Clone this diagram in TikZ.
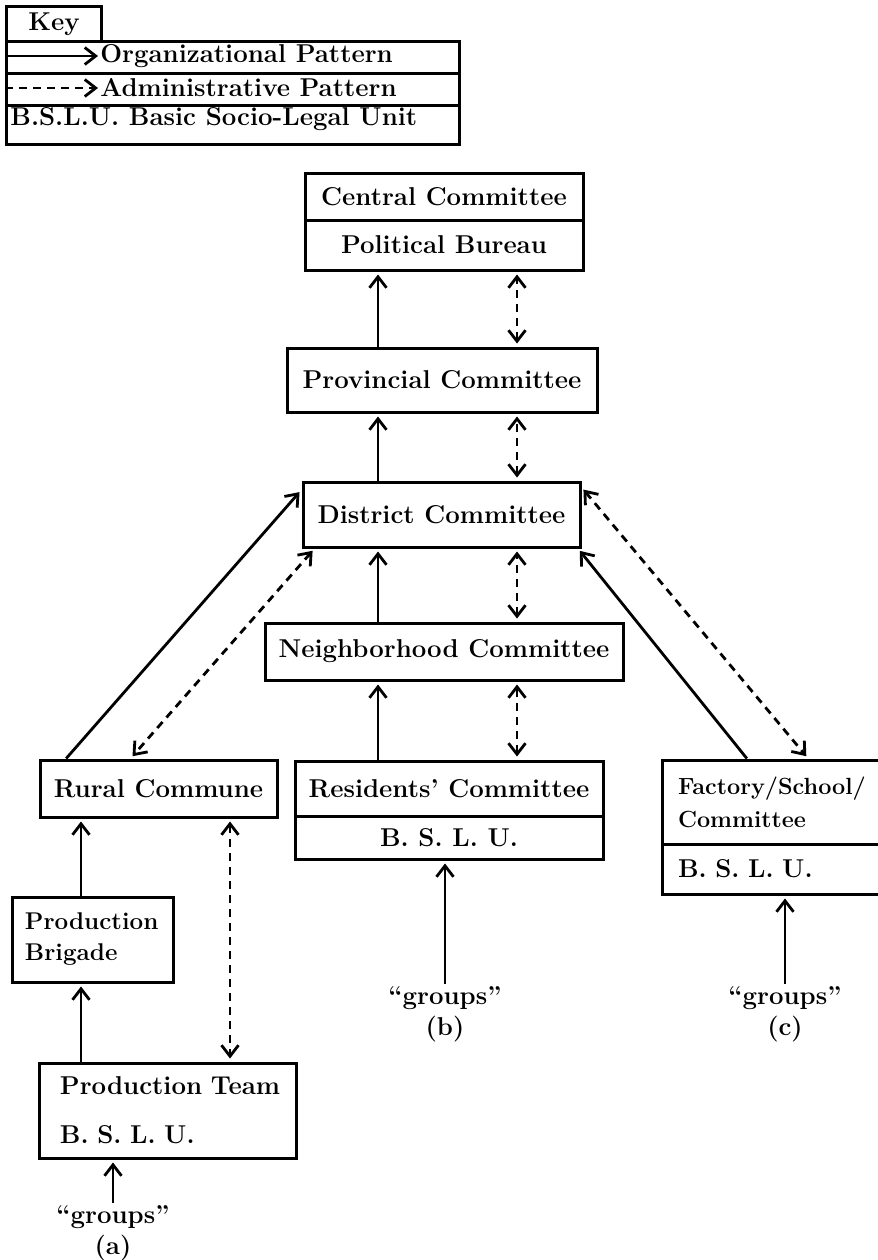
\documentclass[tikz,border=0pt]{standalone}
\usepackage{fontspec}
\usetikzlibrary{arrows.meta}

\begin{document}
\begin{tikzpicture}[x=0.5pt,y=-0.5pt,
  every node/.style={font=\fontsize{12.9}{15.5}\selectfont\bfseries},
  >={Straight Barb[length=5.5pt,width=8.5pt]},
  unit/.style={draw,line width=1.5pt,inner sep=0pt,align=center},
  leftunit/.style={unit,align=left},
  keyrow/.style={draw,line width=1.5pt,inner sep=0pt,minimum width=226.5pt,anchor=north west},
  org/.style={line width=1.4pt,->,shorten >=1.5pt},
  adm/.style={org,dash pattern=on 4pt off 3pt,shorten <=1.5pt},
  grp/.style={inner sep=1pt,anchor=north,align=center}]
  \useasboundingbox (0,0) rectangle (878,1260);
  % key
  \node[keyrow,minimum height=16pt] (orgrow) at (5,40) {};
  \node[keyrow,minimum height=16pt] (admrow) at (5,72) {};
  \node[keyrow,minimum height=19.5pt] (bslurow) at (5,104) {};
  \node[draw,line width=1.5pt,inner sep=0pt,minimum width=47.5pt,minimum height=17.5pt,anchor=north west] (key) at (5,5) {Key};
  \node[anchor=west,inner sep=1pt] (orgtxt) at (98,56) {Organizational Pattern};
  \node[anchor=west,inner sep=1pt] (admtxt) at (98,88) {Administrative Pattern};
  \node[anchor=west,inner sep=1pt] (bslutxt) at (8,119) {B.S.L.U. Basic Socio-Legal Unit};
  \draw[org,shorten >=0pt] (orgrow.west |- orgtxt) -- (orgtxt.west);
  \draw[adm,shorten >=0pt,shorten <=0pt] (admrow.west |- admtxt) -- (admtxt.west);
  % committees
  \node[unit,minimum width=139pt,minimum height=23.5pt] (cent) at (444,196.5) {Central Committee};
  \node[unit,minimum width=139pt,minimum height=25pt] (polit) at (444,245) {Political Bureau};
  \node[unit,minimum width=155pt,minimum height=32pt] (prov) at (442,380) {Provincial Committee};
  \node[unit,minimum width=138.5pt,minimum height=32.5pt] (dist) at (441.5,514.5) {District Committee};
  \node[unit,minimum width=179pt,minimum height=28.5pt] (neigh) at (444,651.5) {Neighborhood Committee};
  \node[unit,minimum width=118.5pt,minimum height=28.5pt] (rural) at (158.5,788.5) {Rural Commune};
  \node[unit,minimum width=154pt,minimum height=27.5pt] (resid) at (449,788.5) {Residents' Committee};
  \node[unit,minimum width=154pt,minimum height=21.5pt] (residb) at (449,837.5) {B. S. L. U.};
  \node[leftunit,text width=95pt,inner xsep=8pt,minimum height=42pt,
    font=\fontsize{11.7}{16.5}\selectfont\bfseries] (fact) at (773,802) {Factory/School/\\Committee};
  \node[leftunit,text width=95pt,inner xsep=8pt,minimum height=25pt] (factb) at (773,869) {B. S. L. U.};
  \node[leftunit,text width=67.5pt,inner xsep=6.5pt,minimum height=42.5pt,
    font=\fontsize{12.1}{15.5}\selectfont\bfseries] (brig) at (92.5,939.5) {Production\\Brigade};
  \node[leftunit,text width=107.5pt,inner xsep=10.5pt,minimum height=47.5pt] (team) at (167.5,1110.5) {Production~Team\\[9pt]B. S. L. U.};
  % groups
  \node[grp] (gra) at (113,1203) {“groups”\\(a)};
  \node[grp] (grb) at (445,984) {“groups”\\(b)};
  \node[grp] (grc) at (785,984) {“groups”\\(c)};
  % columns for the vertical links
  \coordinate (sol) at (378,0);
  \coordinate (das) at (517,0);
  \coordinate (brs) at (81,0);
  \coordinate (brd) at (230,0);
  \draw[org] (prov.north -| sol) -- (polit.south -| sol);
  \draw[adm,<->] (prov.north -| das) -- (polit.south -| das);
  \draw[org] (dist.north -| sol) -- (prov.south -| sol);
  \draw[adm,<->] (dist.north -| das) -- (prov.south -| das);
  \draw[org] (neigh.north -| sol) -- (dist.south -| sol);
  \draw[adm,<->] (neigh.north -| das) -- (dist.south -| das);
  \draw[org] (resid.north -| sol) -- (neigh.south -| sol);
  \draw[adm,<->] (resid.north -| das) -- (neigh.south -| das);
  \draw[org] (rural.162) -- (dist.170);
  \draw[adm,<->] (dist.195) -- (rural.133);
  \draw[org] (fact.121) -- (dist.-14);
  \draw[adm,<->] (dist.11) -- (fact.51);
  \draw[org] (brig.north -| brs) -- (rural.south -| brs);
  \draw[org] (team.north -| brs) -- (brig.south -| brs);
  \draw[adm,<->] (rural.south -| brd) -- (team.north -| brd);
  \draw[org] (gra.north) -- (gra.north |- team.south);
  \draw[org] (grb.north) -- (grb.north |- residb.south);
  \draw[org] (grc.north) -- (grc.north |- factb.south);
\end{tikzpicture}
\end{document}
